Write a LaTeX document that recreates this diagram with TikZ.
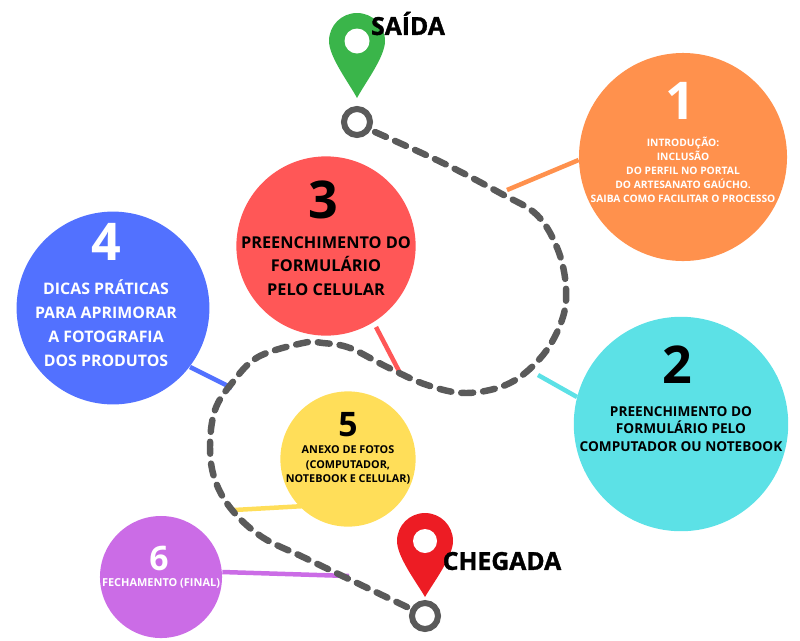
\documentclass[tikz,border=0pt]{standalone}
\usepackage{fontspec}
\setmainfont{Open Sans}
\newfontfamily\pesada[BoldFeatures={FakeBold=1.4}]{Open Sans}
\usetikzlibrary{positioning, calc}
\definecolor{corlaranja}{HTML}{FF914D}
\definecolor{corciano}{HTML}{5CE1E6}
\definecolor{corvermelho}{HTML}{FF5757}
\definecolor{corazul}{HTML}{5271FF}
\definecolor{coramarelo}{HTML}{FFDE59}
\definecolor{corroxo}{HTML}{CB6CE6}
\definecolor{cortrilha}{HTML}{5A5A5A}
\definecolor{corverde}{HTML}{3AB54A}
\definecolor{corpino}{HTML}{ED1C24}

\begin{document}
\begin{tikzpicture}[
  x=0.025cm, y=-0.025cm,
  etapa/.style={circle, inner sep=0pt},
  num/.style={font=\bfseries\fontsize{37}{37}\selectfont, inner sep=0pt},
  numsm/.style={font=\bfseries\fontsize{24}{24}\selectfont, inner sep=0pt},
  txt/.style={align=center, inner sep=0pt},
  marco/.style={font=\pesada\bfseries\fontsize{17.6}{18}\selectfont, text=black, inner sep=0pt},
  ring/.style={circle, draw=cortrilha, line width=0.15cm, minimum size=0.65cm, inner sep=0pt},
  trilha/.style={draw=cortrilha, line width=4.6pt, line cap=round, dash pattern=on 8.5pt off 7.1pt},
  lig/.style={line width=3.2pt},
]
\useasboundingbox (0,0) rectangle (800,640);

% ===== Circles =====
\node[etapa, fill=corlaranja, minimum size=5.2cm] (c1) at (683,157) {};
\node[etapa, fill=corciano, minimum size=5.36cm] (c2) at (681,424) {};
\node[etapa, fill=corvermelho, minimum size=4.48cm] (c3) at (326,246) {};
\node[etapa, fill=corazul, minimum size=4.82cm] (c4) at (113,308) {};
\node[etapa, fill=coramarelo, minimum size=3.38cm] (c5) at (348,459) {};
\node[etapa, fill=corroxo, minimum size=3.05cm] (c6) at (161,577) {};

% ===== Trail =====
\node[ring] (ini) at (357,122) {};
\node[ring] (fim) at (425,616) {};
\coordinate (p1) at (507,190);
\coordinate (p2) at (538,375);
\coordinate (p3) at (400,373);
\coordinate (p4) at (232,388);
\coordinate (p5) at (234,510);
\coordinate (p6) at (349,576);

\draw[lig, corlaranja] (p1) -- (c1.west |- 0,160);
\draw[lig, corciano] (p2) -- (577,397);
\draw[lig, corvermelho] (p3) -- (376,327);
\draw[lig, corazul] (p4) -- (190,367);
\draw[lig, coramarelo] (p5) -- (305,506);
\draw[lig, corroxo] (p6) -- (c6.east |- 0,572);

\draw[trilha] plot[smooth, tension=0.6] coordinates {
  (375,132) (443,163) (500,193) (537,215) (558,250) (566,288) (562,320)
  (543,355) (510,383) (467,393) (427,385) (387,367) (350,348) (323,343)
  (303,343) (258,357) (232,383) (215,410) (210,447) (215,480) (232,510)
  (262,537) (303,557) (357,583) (407,607)};

% ===== Pins =====
\begin{scope}[shift={(357,41)}]
  \fill[corverde] (0,57) .. controls (-8,42) and (-28,16) .. (-28,0)
    .. controls (-28,-15.5) and (-15.5,-28) .. (0,-28)
    .. controls (15.5,-28) and (28,-15.5) .. (28,0)
    .. controls (28,16) and (8,42) .. (0,57) -- cycle;
  \fill[white] (0,0) circle (12.5);
\end{scope}
\begin{scope}[shift={(425,541)}]
  \fill[corpino] (0,56) .. controls (-8,42) and (-28,16) .. (-28,0)
    .. controls (-28,-15.5) and (-15.5,-28) .. (0,-28)
    .. controls (15.5,-28) and (28,-15.5) .. (28,0)
    .. controls (28,16) and (8,42) .. (0,56) -- cycle;
  \fill[white] (0,0) circle (12);
\end{scope}

\node[marco] (saida) at (408,23.5) {SAÍDA};
\node[marco] (chegada) at (502,561) {CHEGADA};

% ===== Numbers and labels =====
\node[num, text=white] (n1) at (680,101) {1};
\node[txt, text=white, font=\bfseries\fontsize{7.3}{10}\selectfont] (t1) at (683,170)
  {INTRODUÇÃO:\\INCLUSÃO\\DO PERFIL NO PORTAL\\DO ARTESANATO GAÚCHO.\\SAIBA COMO FACILITAR O PROCESSO};

\node[num, text=black] (n2) at (677,365) {2};
\node[txt, text=black, font=\bfseries\fontsize{9.7}{12.7}\selectfont] (t2) at (681,429)
  {PREENCHIMENTO DO\\FORMULÁRIO PELO\\COMPUTADOR OU NOTEBOOK};

\node[num, text=black] (n3) at (323,200) {3};
\node[txt, text=black, font=\bfseries\fontsize{11.6}{16.5}\selectfont] (t3) at (326,266)
  {PREENCHIMENTO DO\\FORMULÁRIO\\PELO CELULAR};

\node[num, text=white] (n4) at (106,242) {4};
\node[txt, text=white, font=\bfseries\fontsize{11.3}{17.2}\selectfont] (t4) at (106,323)
  {DICAS PRÁTICAS\\PARA APRIMORAR\\A FOTOGRAFIA\\DOS PRODUTOS};

\node[numsm, text=black] (n5) at (348,425) {5};
\node[txt, text=black, font=\bfseries\fontsize{7.7}{10.3}\selectfont] (t5) at (348,465)
  {ANEXO DE FOTOS\\(COMPUTADOR,\\NOTEBOOK E CELULAR)};

\node[numsm, text=white] (n6) at (159,558) {6};
\node[txt, text=white, font=\bfseries\fontsize{7.8}{8}\selectfont] (t6) at (161,583) {FECHAMENTO (FINAL)};
\end{tikzpicture}
\end{document}
